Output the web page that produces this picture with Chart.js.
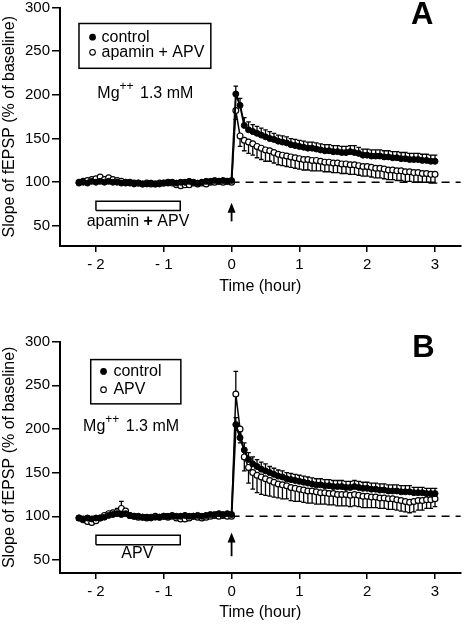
<!DOCTYPE html>
<html>
<head>
<meta charset="utf-8">
<script src="https://cdn.jsdelivr.net/npm/chart.js@4.4.1/dist/chart.umd.min.js"></script>
<style>
html, body { margin: 0; padding: 0; background: #fff; }
#wrap { position: relative; width: 466px; height: 624px; overflow: hidden; }
.panel { position: absolute; left: 0; width: 466px; }
#panelA { top: -12px; height: 312px; }
#panelB { top: 300px; height: 324px; }
</style>
</head>
<body>
<div id="wrap">
  <div class="panel" id="panelA"><canvas id="chartA" width="466" height="312"></canvas></div>
  <div class="panel" id="panelB"><canvas id="chartB" width="466" height="324"></canvas></div>
</div>
<script>
// LTP time course, two panels (A: apamin + APV, B: APV), Mg++ 1.3 mM

// ── data ──────────────────────────────────────────────────────────────────────
const X_TICKS = [-2, -1, 0, 1, 2, 3];
const Y_TICKS = [50, 100, 150, 200, 250, 300];

// sample times (hour), tetanus at 0
const TIME = [
  -2.25, -2.1875, -2.125, -2.0625, -2, -1.9375, -1.875, -1.8125, -1.75, -1.6875,
  -1.625, -1.5625, -1.5, -1.4375, -1.375, -1.3125, -1.25, -1.1875, -1.125, -1.0625,
  -1, -0.9375, -0.875, -0.8125, -0.75, -0.6875, -0.625, -0.5625, -0.5, -0.4375,
  -0.375, -0.3125, -0.25, -0.1875, -0.125, -0.0625, 0,
  0.0625, 0.125, 0.1875, 0.25, 0.3125, 0.375, 0.4375, 0.5, 0.5625, 0.625,
  0.6875, 0.75, 0.8125, 0.875, 0.9375, 1, 1.0625, 1.125, 1.1875, 1.25,
  1.3125, 1.375, 1.4375, 1.5, 1.5625, 1.625, 1.6875, 1.75, 1.8125, 1.875,
  1.9375, 2, 2.0625, 2.125, 2.1875, 2.25, 2.3125, 2.375, 2.4375, 2.5,
  2.5625, 2.625, 2.6875, 2.75, 2.8125, 2.875, 2.9375, 3
];

// panel A
const A_CONTROL = [
  99, 100, 99, 101, 100, 101, 100, 101, 100, 100,
  99, 99, 99, 98, 99, 98, 98, 99, 98, 98,
  99, 99, 100, 99, 100, 100, 101, 100, 99, 100,
  101, 101, 102, 101, 102, 101, 102,
  201, 188, 165, 160, 158, 156, 154, 152, 150, 149,
  147, 146, 145, 143, 142, 141, 140, 139, 139, 138,
  137, 136, 136, 135, 135, 134, 134, 135, 134, 133,
  131, 131, 130, 130, 130, 129, 129, 128, 128, 127,
  127, 126, 126, 126, 125, 125, 124, 124
];
const A_CONTROL_SEM = [
  2, 2, 2, 2, 2, 2, 2, 2, 2, 2,
  2, 2, 2, 2, 2, 2, 2, 2, 2, 2,
  2, 2, 2, 2, 2, 2, 2, 2, 2, 2,
  2, 2, 2, 2, 2, 2, 2,
  9, 8, 9, 9, 8, 8, 8, 8, 8, 7,
  7, 7, 7, 7, 7, 7, 7, 7, 7, 7,
  7, 7, 7, 7, 7, 7, 7, 7, 8, 7,
  7, 7, 7, 7, 7, 7, 7, 7, 7, 7,
  7, 7, 7, 7, 7, 7, 7, 7
];
const A_APAMIN_APV = [
  100, 101, 102, 103, 104, 106, 103, 105, 103, 102,
  101, 100, 100, 99, 99, 98, 99, 98, 98, 99,
  99, 100, 99, 97, 96, 97, 97, 99, 98, 99,
  98, 100, 100, 101, 100, 101, 100,
  182, 153, 148, 146, 144, 141, 139, 137, 136, 134,
  132, 131, 130, 129, 128, 127, 126, 126, 125, 125,
  124, 123, 123, 122, 122, 121, 121, 120, 120, 119,
  118, 118, 117, 116, 116, 115, 114, 114, 113, 113,
  112, 112, 111, 111, 110, 110, 109, 109
];
const A_APAMIN_APV_SEM = [
  2, 2, 2, 2, 2, 2, 2, 2, 2, 2,
  2, 2, 2, 2, 2, 2, 2, 2, 2, 2,
  2, 2, 2, 2, 2, 2, 2, 2, 2, 2,
  2, 2, 2, 2, 2, 2, 2,
  10, 12, 12, 13, 13, 13, 13, 13, 12, 12,
  12, 12, 12, 12, 12, 12, 12, 12, 12, 12,
  11, 11, 11, 11, 11, 11, 11, 11, 11, 11,
  11, 11, 11, 11, 11, 11, 11, 11, 11, 11,
  11, 11, 11, 11, 10, 10, 10, 10
];

// panel B
const B_CONTROL = [
  98, 97, 98, 97, 98, 98, 99, 101, 102, 103,
  102, 103, 101, 100, 100, 99, 99, 98, 99, 99,
  100, 100, 101, 100, 100, 101, 100, 100, 101, 100,
  101, 102, 102, 103, 102, 103, 102,
  205, 190, 176, 165, 160, 157, 154, 152, 150, 148,
  146, 145, 143, 142, 141, 140, 139, 138, 137, 136,
  136, 135, 135, 134, 134, 134, 133, 133, 134, 133,
  132, 132, 131, 131, 130, 130, 129, 129, 129, 128,
  128, 128, 127, 127, 127, 126, 126, 126
];
const B_CONTROL_SEM = [
  2, 2, 2, 2, 2, 2, 2, 2, 2, 2,
  2, 2, 2, 2, 2, 2, 2, 2, 2, 2,
  2, 2, 2, 2, 2, 2, 2, 2, 2, 2,
  2, 2, 2, 2, 2, 2, 2,
  8, 8, 8, 8, 8, 8, 8, 8, 7, 7,
  7, 7, 7, 7, 7, 7, 7, 7, 7, 7,
  7, 7, 7, 7, 7, 7, 7, 7, 7, 7,
  7, 7, 7, 7, 7, 7, 7, 7, 7, 7,
  7, 7, 6, 6, 6, 6, 6, 6
];
const B_APV = [
  98, 96, 94, 93, 95, 98, 101, 103, 104, 105,
  109, 106, 101, 100, 99, 99, 98, 99, 100, 99,
  100, 99, 100, 98, 97, 97, 98, 100, 99, 98,
  99, 100, 101, 100, 101, 100, 100,
  240, 200, 168, 156, 150, 147, 145, 143, 141, 139,
  137, 136, 135, 133, 132, 131, 130, 129, 129, 128,
  127, 127, 126, 126, 125, 125, 125, 124, 125, 124,
  123, 123, 122, 122, 121, 121, 120, 120, 119, 118,
  117, 116, 117, 118, 118, 119, 119, 120
];
// negative = bar drawn upward instead of downward
const B_APV_SEM = [
  2, 2, 2, 2, 2, 2, 2, 2, 2, -4,
  -8, 2, 2, 2, 2, 2, 2, 2, 2, 2,
  2, 2, 2, 2, 2, 2, 2, 2, 2, 2,
  2, 2, 2, 2, 2, 2, 2,
  -26, 16, 16, 18, 19, 20, 20, 19, 18, 17,
  16, 16, 15, 15, 15, 14, 14, 14, 14, 14,
  13, 13, 13, 13, 13, 13, 13, 13, 13, 13,
  13, 13, 12, 12, 12, 12, 12, 12, 12, 12,
  12, 12, 12, 11, 11, 10, 10, 9
];

// drug application bar (hour, % scale), reference line
const DRUG_SPAN = [-2, -0.757];
const DRUG_LEVELS = [67.5, 78.2];
const BASELINE = 100;

// ── helpers ───────────────────────────────────────────────────────────────────
const FONT = '"Liberation Sans", Arial, Helvetica, sans-serif';

function pts(values) {
    return TIME.map((t, i) => ({ x: t, y: values[i] }));
}

function tickText(v) {
    return v < 0 ? '- ' + Math.abs(v) : String(v);
}

// error bars, drawn under the markers
const semBars = {
    id: 'semBars',
    beforeDatasetsDraw(chart) {
        const { ctx, scales: { x, y } } = chart;
        ctx.save();
        ctx.strokeStyle = '#000';
        ctx.lineWidth = 1.3;
        chart.data.datasets.forEach(ds => {
            if (!ds.sem) return;
            ds.data.forEach((p, i) => {
                const e = ds.sem[i] * ds.semDir;
                const px = x.getPixelForValue(p.x);
                const y0 = y.getPixelForValue(p.y);
                const y1 = y.getPixelForValue(p.y + e);
                ctx.beginPath();
                ctx.moveTo(px, y0); ctx.lineTo(px, y1);
                ctx.moveTo(px - 2.3, y1); ctx.lineTo(px + 2.3, y1);
                ctx.stroke();
            });
        });
        ctx.restore();
    }
};

// legend box, labels, arrow, panel letter
const figNotes = {
    id: 'figNotes',
    afterDatasetsDraw(chart, args, o) {
        const { ctx, scales: { x, y } } = chart;
        const X = v => x.getPixelForValue(v);
        const Y = v => y.getPixelForValue(v);
        ctx.save();
        ctx.fillStyle = '#000';
        ctx.strokeStyle = '#000';
        ctx.textBaseline = 'middle';

        // legend
        const b = o.legend.box;
        ctx.lineWidth = 1.5;
        ctx.strokeRect(X(b[0]), Y(b[1]), X(b[2]) - X(b[0]), Y(b[3]) - Y(b[1]));
        ctx.font = '16px ' + FONT;
        o.legend.rows.forEach(r => {
            ctx.beginPath();
            ctx.arc(X(o.legend.markerX), Y(r.y), 2.8, 0, Math.PI * 2);
            ctx.fillStyle = r.filled ? '#000' : '#fff';
            ctx.fill();
            ctx.lineWidth = 1.1;
            ctx.stroke();
            ctx.fillStyle = '#000';
            ctx.textAlign = 'left';
            ctx.fillText(r.label, X(o.legend.textX), Y(r.y));
        });

        // Mg++ 1.3 mM
        let mx = X(o.mg[0]);
        const my = Y(o.mg[1]);
        ctx.textAlign = 'left';
        ctx.font = '16px ' + FONT;
        ctx.fillText('Mg', mx, my);
        mx += ctx.measureText('Mg').width;
        ctx.font = '12px ' + FONT;
        ctx.fillText('++', mx, my - 7);
        mx += ctx.measureText('++').width + 2;
        ctx.font = '16px ' + FONT;
        ctx.fillText(' 1.3 mM', mx, my);

        // drug label under the bar, '+' in bold
        const parts = o.drug.parts;
        let total = 0;
        parts.forEach(p => {
            ctx.font = (p.bold ? 'bold ' : '') + '16px ' + FONT;
            total += ctx.measureText(p.text).width;
        });
        let dx = X(o.drug.at[0]) - total / 2;
        parts.forEach(p => {
            ctx.font = (p.bold ? 'bold ' : '') + '16px ' + FONT;
            ctx.fillText(p.text, dx, Y(o.drug.at[1]));
            dx += ctx.measureText(p.text).width;
        });

        // tetanus arrow
        const ax = X(o.arrow[0]);
        const aTop = Y(o.arrow[2]);
        ctx.lineWidth = 1.8;
        ctx.beginPath();
        ctx.moveTo(ax, Y(o.arrow[1]));
        ctx.lineTo(ax, aTop + 6);
        ctx.stroke();
        ctx.beginPath();
        ctx.moveTo(ax, aTop);
        ctx.lineTo(ax - 4, aTop + 10);
        ctx.lineTo(ax + 4, aTop + 10);
        ctx.closePath();
        ctx.fill();

        // panel letter
        ctx.font = 'bold 31px ' + FONT;
        ctx.textAlign = 'center';
        ctx.fillText(o.letter.text, X(o.letter.at[0]), Y(o.letter.at[1]));
        ctx.restore();
    }
};

// ── panel builder ─────────────────────────────────────────────────────────────
function buildPanel(canvasId, p) {
    const drugBox = [
        { x: DRUG_SPAN[0], y: DRUG_LEVELS[0] }, { x: DRUG_SPAN[1], y: DRUG_LEVELS[0] },
        { x: DRUG_SPAN[1], y: DRUG_LEVELS[1] }, { x: DRUG_SPAN[0], y: DRUG_LEVELS[1] },
        { x: DRUG_SPAN[0], y: DRUG_LEVELS[0] }
    ];
    const ctx = document.getElementById(canvasId).getContext('2d');
    return new Chart(ctx, {
        type: 'line',
        data: {
            datasets: [
                {
                    label: 'control', data: pts(p.control), sem: p.controlSem, semDir: 1,
                    borderColor: '#000', borderWidth: 2, backgroundColor: '#000',
                    pointRadius: 3, pointBorderWidth: 1, pointBackgroundColor: '#000',
                    pointBorderColor: '#000', tension: 0
                },
                {
                    label: p.drugName, data: pts(p.drug), sem: p.drugSem, semDir: -1,
                    borderColor: '#000', borderWidth: 1.5, backgroundColor: '#fff',
                    pointRadius: 2.9, pointBorderWidth: 1.2, pointBackgroundColor: '#fff',
                    pointBorderColor: '#000', tension: 0
                },
                {
                    data: [{ x: 0, y: BASELINE }, { x: p.xMax, y: BASELINE }],
                    borderColor: '#000', borderWidth: 1.6, borderDash: [8, 6],
                    pointRadius: 0, fill: false
                },
                {
                    data: drugBox, borderColor: '#000', borderWidth: 1.5,
                    backgroundColor: '#fff', pointRadius: 0, fill: false, tension: 0
                }
            ]
        },
        options: {
            responsive: false,
            animation: false,
            events: [],
            layout: { padding: { top: p.padTop, right: 0, bottom: 0, left: 0 } },
            plugins: {
                legend: { display: false },
                tooltip: { enabled: false },
                figNotes: p.notes
            },
            scales: {
                x: {
                    type: 'linear', min: p.xMin, max: p.xMax,
                    afterBuildTicks: s => { s.ticks = X_TICKS.map(v => ({ value: v })); },
                    afterFit: s => { s.height = p.xAxisHeight; },
                    ticks: { color: '#000', font: { family: FONT, size: 15 }, padding: 4,
                        maxRotation: 0, autoSkip: false, callback: tickText },
                    grid: { drawOnChartArea: false, drawTicks: true, tickLength: 6,
                        color: '#000', lineWidth: 1.5 },
                    border: { display: true, color: '#000', width: 2 },
                    title: { display: true, text: 'Time (hour)', color: '#000',
                        font: { family: FONT, size: 16 }, padding: { top: 0, bottom: p.xTitlePad } }
                },
                y: {
                    type: 'linear', min: p.yMin, max: 300,
                    afterBuildTicks: s => { s.ticks = Y_TICKS.map(v => ({ value: v })); },
                    afterFit: s => { s.width = 60; },
                    ticks: { color: '#000', font: { family: FONT, size: 15 }, padding: 2 },
                    grid: { drawOnChartArea: false, drawTicks: true, tickLength: 8,
                        color: '#000', lineWidth: 1.5 },
                    border: { display: true, color: '#000', width: 2 },
                    title: { display: true, text: 'Slope of fEPSP (% of baseline)', color: '#000',
                        font: { family: FONT, size: 16 }, padding: { top: 0, bottom: 0 } }
                }
            }
        },
        plugins: [semBars, figNotes]
    });
}

// ── init ──────────────────────────────────────────────────────────────────────
buildPanel('chartA', {
    control: A_CONTROL, controlSem: A_CONTROL_SEM,
    drug: A_APAMIN_APV, drugSem: A_APAMIN_APV_SEM, drugName: 'apamin + APV',
    xMin: -2.53, xMax: 3.38, yMin: 27,
    padTop: 19.5, xAxisHeight: 54, xTitlePad: 4,
    notes: {
        legend: {
            box: [-2.25, 281.7, -0.306, 230.4], markerX: -2.05, textX: -1.917,
            rows: [{ label: 'control', filled: true, y: 266 },
                   { label: 'apamin + APV', filled: false, y: 248.7 }]
        },
        mg: [-1.98, 201.7],
        drug: { at: [-1.38, 55.3], parts: [{ text: 'apamin ' }, { text: '+', bold: true }, { text: ' APV' }] },
        arrow: [0, 55.2, 76.4],
        letter: { text: 'A', at: [2.81, 291] }
    }
});

buildPanel('chartB', {
    control: B_CONTROL, controlSem: B_CONTROL_SEM,
    drug: B_APV, drugSem: B_APV_SEM, drugName: 'APV',
    xMin: -2.53, xMax: 3.38, yMin: 35,
    padTop: 41.7, xAxisHeight: 51, xTitlePad: 2,
    notes: {
        legend: {
            box: [-2.077, 279.5, -0.748, 228.8], markerX: -1.888, textX: -1.742,
            rows: [{ label: 'control', filled: true, y: 266 },
                   { label: 'APV', filled: false, y: 245 }]
        },
        mg: [-2.19, 202.4],
        drug: { at: [-1.39, 57.3], parts: [{ text: 'APV' }] },
        arrow: [0, 54.2, 81.3],
        letter: { text: 'B', at: [2.83, 292] }
    }
});
</script>
</body>
</html>
